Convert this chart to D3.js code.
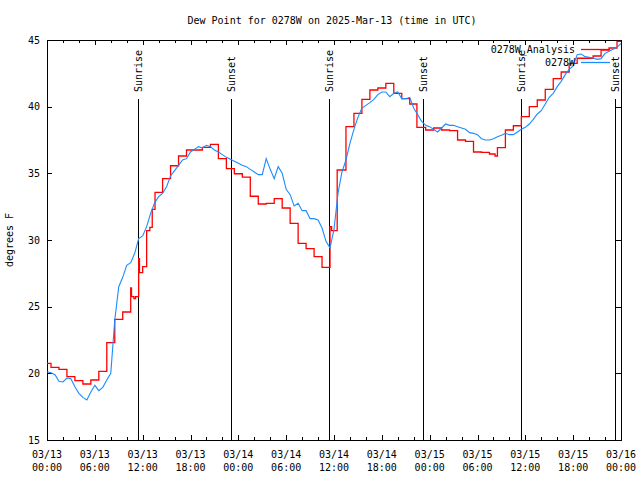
<!DOCTYPE html>
<html><head><meta charset="utf-8">
<script src="https://cdn.jsdelivr.net/npm/d3@7"></script>
<style>
body{margin:0;background:#fff}
svg{display:block}
text{font-family:"DejaVu Sans Mono",monospace;font-size:10px;fill:#000}
</style>
</head><body><svg id="c" width="640" height="480"></svg>
<script>
const title = "Dew Point for 0278W on 2025-Mar-13 (time in UTC)";
const yLabel = "degrees F";
const seriesNames = ["0278W_Analysis", "0278W"];
const startTime = Date.UTC(2025, 2, 13, 0, 0, 0);
const endTime = Date.UTC(2025, 2, 16, 0, 0, 0);
const yTicks = [15, 20, 25, 30, 35, 40, 45];
const xMajorHours = [0, 6, 12, 18, 24, 30, 36, 42, 48, 54, 60, 66, 72];
const xMinorHours = [2, 4, 8, 10, 14, 16, 20, 22, 26, 28, 32, 34, 38, 40, 44, 46, 50, 52, 56, 58, 62, 64, 68, 70];
const xTickDates = ["03/13","03/13","03/13","03/13","03/14","03/14","03/14","03/14","03/15","03/15","03/15","03/15","03/16"];
const xTickTimes = ["00:00","06:00","12:00","18:00","00:00","06:00","12:00","18:00","00:00","06:00","12:00","18:00","00:00"];
const sunriseHours = [11.45, 35.42, 59.55];
const sunsetHours = [23.12, 47.2, 71.35];

// Analysis: step start hour (from 03/13 00:00 UTC) and value
const analysisHours = [0,0.5,1.5,2.5,3.5,4.5,5.5,6.5,7.5,8.5,9.5,10.5,10.6,10.9,11.1,11.5,11.6,12.0,12.5,12.9,13.2,13.55,14.5,15.5,16.5,17.5,19.5,20.5,21.5,22.5,23.5,24.5,25.5,26.5,27.5,28.5,29.5,30.5,31.5,32.5,33.5,34.5,35.5,35.7,36.4,37.5,38.5,39.5,40.5,41.5,42.5,43.5,44.5,45.5,46.4,47.5,48.5,49.5,50.5,51.5,52.5,53.5,54.5,55.5,56.2,56.5,57.5,58.5,59.5,60.5,61.5,62.5,63.5,64.5,65.5,66.5,68.5,69.5,70.5,71.5,72];
const analysisValues = [20.75,20.45,20.3,19.75,19.45,19.2,19.5,20.15,22.3,24.05,24.6,26.4,25.75,25.6,25.75,28.6,27.55,28.0,30.7,30.95,32.3,33.57,34.6,35.57,36.3,36.75,36.95,37.17,36.1,35.35,34.97,34.72,33.28,32.7,32.75,33.1,32.4,31.25,29.75,29.35,28.75,27.95,31.0,30.7,35.25,38.5,39.5,40.55,41.25,41.4,41.75,41.0,40.6,40.2,38.45,38.25,38.4,38.25,38.2,37.5,37.4,36.6,36.57,36.45,36.3,36.93,38.25,38.57,39.25,40.0,40.5,41.3,42.1,42.6,43.25,43.63,43.8,44.25,44.4,44.9,44.9];

// Observations every 30 minutes from 03/13 00:00 UTC
const obsStepMinutes = 30;
const obsValues = [20.12,20.05,19.9,19.4,19.35,19.65,19.6,19.0,18.5,18.2,18.0,18.6,19.1,18.7,18.95,19.5,20.0,24.0,26.5,27.2,
28.1,28.3,29.0,30.1,30.3,31.0,32.0,32.8,33.25,33.5,34.0,34.8,35.2,35.6,36.0,36.1,36.6,36.8,37.0,36.9,
37.1,37.0,36.75,36.6,36.4,36.2,36.05,35.9,35.75,35.6,35.5,35.3,35.1,34.9,34.9,36.1,35.3,34.6,35.5,35.0,
33.8,33.4,32.55,32.75,32.2,32.2,31.6,31.6,31.5,30.9,29.9,29.4,30.8,33.5,35.1,36.0,37.25,38.3,39.2,39.9,
40.1,40.3,40.55,40.9,41.1,41.1,40.75,41.0,41.1,40.6,40.6,40.7,39.9,39.4,38.9,38.6,38.5,38.3,38.1,38.4,
38.7,38.6,38.6,38.5,38.4,38.3,38.05,38.0,37.9,37.6,37.5,37.5,37.6,37.75,37.85,38.0,37.9,37.9,38.1,38.3,
38.45,38.7,39.05,39.45,39.7,40.2,40.7,41.0,41.5,41.9,42.4,42.8,43.05,43.9,43.95,43.75,43.7,43.65,43.55,43.6,
44.0,44.15,44.3,44.45,44.75];

const H = 3600 * 1000;
const toDate = h => new Date(startTime + h * H);
const svg = d3.select("#c");
const L = 47, R = 621, T = 40, B = 440;
const x = d3.scaleUtc().domain([new Date(startTime), new Date(endTime)]).range([L, R]);
const y = d3.scaleLinear().domain([15, 45]).range([B, T]);

function styleAxis(g){ g.select(".domain").remove(); g.selectAll("line").attr("stroke","#000").attr("shape-rendering","crispEdges"); g.attr("font-family",null).attr("font-size",null); }
svg.append("g").attr("transform",`translate(0,${B})`).call(d3.axisBottom(x).tickValues(xMajorHours.map(toDate)).tickSize(-5).tickFormat("")).call(styleAxis);
svg.append("g").attr("transform",`translate(0,${B})`).call(d3.axisBottom(x).tickValues(xMinorHours.map(toDate)).tickSize(-3).tickFormat("")).call(styleAxis);
svg.append("g").attr("transform",`translate(0,${T})`).call(d3.axisTop(x).tickValues(xMajorHours.map(toDate)).tickSize(-5).tickFormat("")).call(styleAxis);
svg.append("g").attr("transform",`translate(0,${T})`).call(d3.axisTop(x).tickValues(xMinorHours.map(toDate)).tickSize(-3).tickFormat("")).call(styleAxis);
svg.append("g").attr("transform",`translate(${L},0)`).call(d3.axisLeft(y).tickValues(yTicks).tickSize(-5).tickPadding(7).tickFormat(d3.format("d"))).call(styleAxis);
svg.append("g").attr("transform",`translate(${R},0)`).call(d3.axisRight(y).tickValues(yTicks).tickSize(-5).tickFormat("")).call(styleAxis);

const xl = svg.append("g");
xMajorHours.forEach((h,i)=>{
  const t = xl.append("text").attr("x", x(toDate(h))).attr("text-anchor","middle");
  t.append("tspan").attr("x", x(toDate(h))).attr("y", B + 17.5).text(xTickDates[i]);
  t.append("tspan").attr("x", x(toDate(h))).attr("y", B + 30.5).text(xTickTimes[i]);
});

svg.append("rect").attr("x",L).attr("y",T).attr("width",R-L).attr("height",B-T)
  .attr("fill","none").attr("stroke","#000").attr("shape-rendering","crispEdges");

svg.append("text").attr("x", 332).attr("y", 23.5).attr("text-anchor","middle").text(title);
svg.append("text").attr("transform","translate(13,240) rotate(-90)").attr("text-anchor","middle").text(yLabel);

const marks = sunriseHours.map(h=>({h, name:"Sunrise"})).concat(sunsetHours.map(h=>({h, name:"Sunset"})));
const mg = svg.append("g");
marks.forEach(m=>{
  const px = x(toDate(m.h));
  mg.append("line").attr("x1",px).attr("x2",px).attr("y1",99).attr("y2",B)
    .attr("stroke","#000").attr("shape-rendering","crispEdges");
  mg.append("text").attr("transform",`translate(${px+3.5},92) rotate(-90)`).attr("text-anchor","start").text(m.name);
});

const analysis = analysisHours.map((h,i)=>({t: toDate(h), v: analysisValues[i]}));
const obs = obsValues.map((v,i)=>({t: new Date(startTime + i*obsStepMinutes*60000), v}));
const redColor = "#ff0000", blueColor = "#1a8cff";
svg.append("path").datum(analysis)
  .attr("d", d3.line().x(d=>x(d.t)).y(d=>y(d.v)).curve(d3.curveStepAfter))
  .attr("fill","none").attr("stroke",redColor).attr("stroke-width",1.3);
svg.append("path").datum(obs)
  .attr("d", d3.line().x(d=>x(d.t)).y(d=>y(d.v)))
  .attr("fill","none").attr("stroke",blueColor).attr("stroke-width",1.1);

const lg = svg.append("g");
[[seriesNames[0], redColor, 49.5],[seriesNames[1], blueColor, 62.5]].forEach(([name,col,yy])=>{
  lg.append("text").attr("x",575).attr("y",yy+3.5).attr("text-anchor","end").text(name);
  lg.append("line").attr("x1",581).attr("x2",610).attr("y1",yy).attr("y2",yy)
    .attr("stroke",col).attr("stroke-width",1.3);
});
</script></body></html>
